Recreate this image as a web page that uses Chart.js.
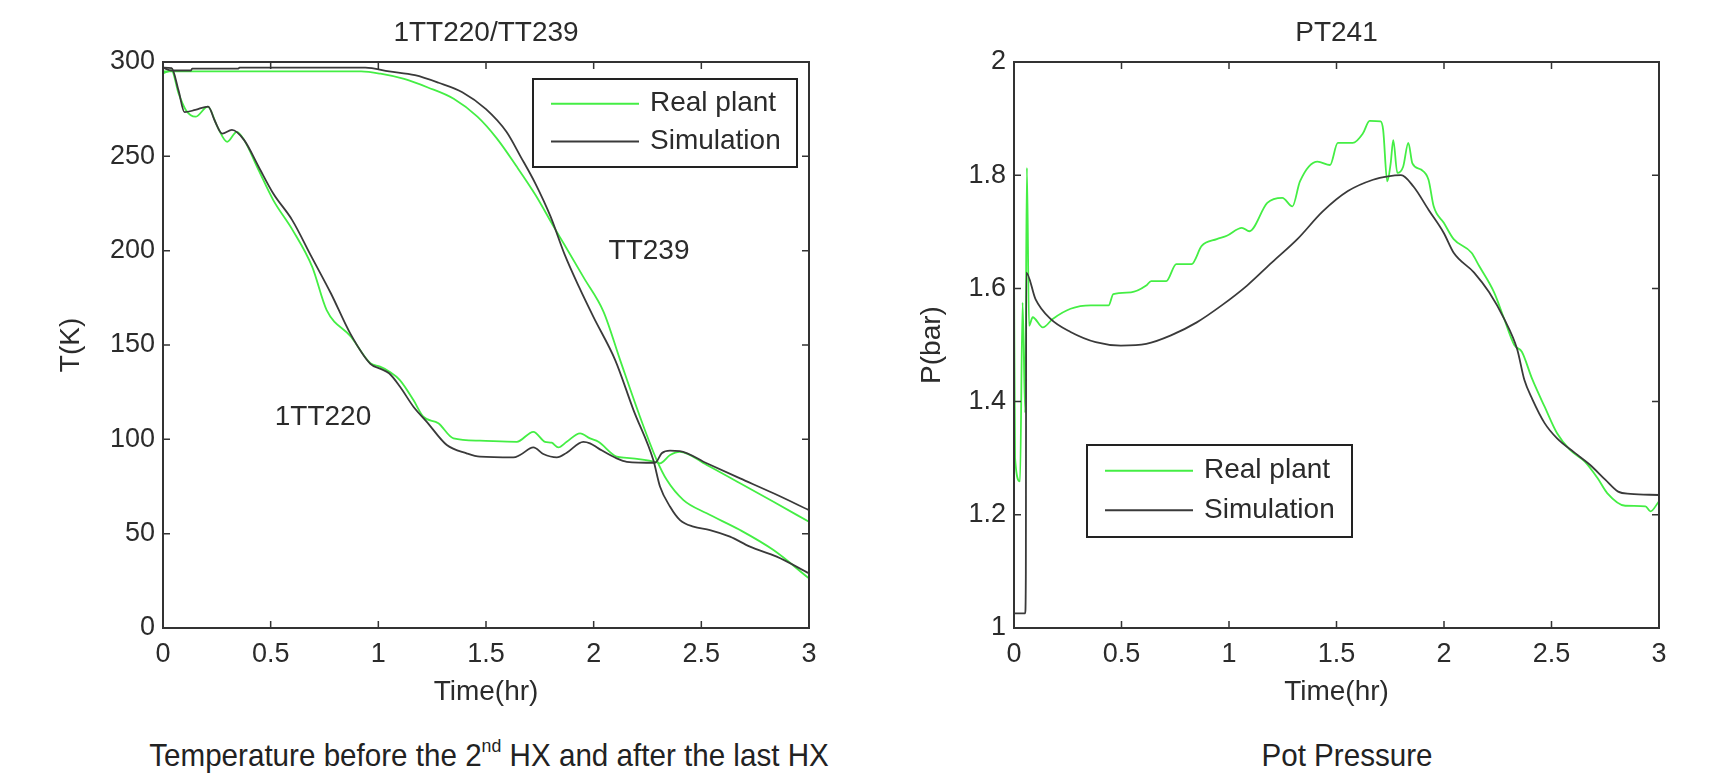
<!DOCTYPE html>
<html lang="en">
<head>
    <meta charset="UTF-8">
    <title>1TT220/TT239 and PT241</title>
    <style>
        body {
            margin: 0;
            padding: 0;
            background-color: #fff;
        }
        #page {
            position: relative;
            width: 1709px;
            height: 782px;
            overflow: hidden;
            font-family: 'Liberation Sans', Arial, sans-serif;
            color: #222;
        }
        .box {
            position: absolute;
            top: 0;
            height: 713px;
        }
        .caption {
            position: absolute;
            top: 755px;
            font-size: 32px;
            white-space: nowrap;
            transform: translate(-50%, -50%) scaleX(0.925);
        }
        .caption sup {
            font-size: 60%;
            vertical-align: 0.7em;
            line-height: 0;
        }
    </style>
</head>
<body>
    <div id="page">
        <div class="box" style="left:0; width:860px;"><canvas id="temp-chart"></canvas></div>
        <div class="box" style="left:860px; width:849px;"><canvas id="press-chart"></canvas></div>
        <div class="caption" style="left:489px;">Temperature before the 2<sup>nd</sup> HX and after the last HX</div>
        <div class="caption" style="left:1347px;">Pot Pressure</div>
    </div>

    <script src="https://cdn.jsdelivr.net/npm/chart.js"></script>
    <script>
        // tick labels
        const timeTicks = [0, 0.5, 1, 1.5, 2, 2.5, 3];
        const tempTicks = [0, 50, 100, 150, 200, 250, 300];
        const pressTicks = [1, 1.2, 1.4, 1.6, 1.8, 2];

        // TT239 (after the last HX)
        const tt239RealTime = [0, 0.92, 1.01, 1.12, 1.23, 1.35, 1.46, 1.55, 1.64, 1.73, 1.81, 1.865, 1.956, 2.046, 2.123, 2.215, 2.293, 2.34, 2.417, 2.525, 2.68, 2.835, 3.0];
        const tt239RealTemp = [295, 295, 293.8, 291, 286.5, 280.5, 271, 259.5, 245, 229.5, 213.6, 203, 185.3, 167.6, 142, 112, 89, 78.4, 67.8, 60.8, 51.9, 41.3, 26.3];
        const tt239SimTime = [0, 0.04, 0.13, 0.135, 0.35, 0.355, 0.94, 1.05, 1.17, 1.28, 1.39, 1.5, 1.595, 1.66, 1.73, 1.8, 1.865, 1.933, 2.0, 2.1, 2.185, 2.277, 2.308, 2.355, 2.401, 2.463, 2.54, 2.633, 2.726, 2.85, 3.0];
        const tt239SimTemp = [297, 295.5, 295.5, 296.5, 296.5, 297, 297, 295, 293, 289, 284, 275, 263, 250, 235.4, 218, 198, 180.5, 164.6, 142, 115.5, 89, 75, 64.3, 57.2, 53.7, 51.9, 48.4, 43.1, 37.8, 29];

        // 1TT220 (before the 2nd HX)
        const tt220RealTime = [0, 0.04, 0.072, 0.106, 0.151, 0.208, 0.253, 0.298, 0.343, 0.377, 0.444, 0.512, 0.602, 0.693, 0.76, 0.873, 0.963, 1.008, 1.05, 1.1, 1.163, 1.209, 1.279, 1.349, 1.472, 1.643, 1.72, 1.774, 1.805, 1.836, 1.875, 1.937, 1.983, 2.022, 2.107, 2.154, 2.285, 2.308, 2.355, 2.4, 2.525, 2.68, 2.835, 3.0];
        const tt220RealTemp = [294, 295.5, 283.5, 274.6, 271, 276.3, 265.6, 257.7, 263, 258.6, 242.7, 226.8, 210.9, 191.4, 168.5, 154.4, 140.3, 138.5, 136, 131.4, 120.8, 112, 108.5, 100.5, 99.3, 98.7, 104, 98.7, 98.2, 95.7, 98.7, 103.2, 100.5, 98.7, 90.8, 90.2, 88.1, 87.3, 91.7, 93.4, 86.4, 76.7, 66.9, 56.3];
        const tt220SimTime = [0, 0.04, 0.072, 0.1, 0.15, 0.21, 0.24, 0.275, 0.32, 0.377, 0.444, 0.512, 0.6, 0.69, 0.78, 0.87, 0.963, 1.008, 1.05, 1.1, 1.163, 1.225, 1.318, 1.41, 1.472, 1.627, 1.658, 1.72, 1.766, 1.829, 1.875, 1.952, 1.983, 2.022, 2.107, 2.154, 2.285, 2.316, 2.355, 2.4, 2.525, 2.68, 2.835, 3.0];
        const tt220SimTemp = [297, 296.7, 285, 273.4, 274.6, 276.4, 269, 262, 264, 258.6, 244.5, 230.3, 216.2, 196.7, 177.3, 156, 140, 137.5, 135, 128, 117.3, 109.3, 97, 92.6, 90.8, 90.4, 91.7, 95.7, 92.2, 90.4, 92.9, 98.7, 97.9, 95.2, 89.9, 88.1, 87.6, 92.6, 94, 93.8, 87.3, 79.3, 71.4, 62.5];

        // PT241 (pot pressure)
        const pt241RealTime = [0, 0.005, 0.028, 0.04, 0.052, 0.06, 0.07, 0.087, 0.134, 0.18, 0.263, 0.357, 0.44, 0.462, 0.544, 0.615, 0.638, 0.708, 0.755, 0.826, 0.873, 0.943, 0.99, 1.06, 1.095, 1.178, 1.248, 1.295, 1.33, 1.412, 1.47, 1.506, 1.576, 1.623, 1.654, 1.705, 1.717, 1.736, 1.752, 1.764, 1.783, 1.81, 1.834, 1.853, 1.893, 1.928, 1.952, 1.999, 2.045, 2.128, 2.163, 2.233, 2.28, 2.327, 2.362, 2.41, 2.468, 2.526, 2.585, 2.655, 2.714, 2.76, 2.843, 2.937, 2.96, 3.0];
        const pt241RealPress = [1.646, 1.30, 1.259, 1.575, 1.38, 1.813, 1.534, 1.549, 1.531, 1.546, 1.564, 1.57, 1.57, 1.59, 1.593, 1.605, 1.613, 1.613, 1.643, 1.643, 1.675, 1.687, 1.693, 1.707, 1.701, 1.751, 1.76, 1.745, 1.789, 1.824, 1.818, 1.857, 1.857, 1.874, 1.896, 1.895, 1.88, 1.789, 1.821, 1.862, 1.804, 1.815, 1.857, 1.821, 1.81, 1.792, 1.745, 1.716, 1.687, 1.663, 1.64, 1.593, 1.546, 1.50, 1.488, 1.44, 1.391, 1.344, 1.315, 1.294, 1.265, 1.238, 1.216, 1.215, 1.206, 1.224];
        const pt241SimTime = [0, 0.052, 0.055, 0.057, 0.1, 0.17, 0.263, 0.38, 0.497, 0.615, 0.73, 0.85, 0.966, 1.084, 1.2, 1.318, 1.436, 1.553, 1.67, 1.74, 1.8, 1.858, 1.928, 1.999, 2.045, 2.14, 2.21, 2.28, 2.34, 2.374, 2.41, 2.468, 2.526, 2.61, 2.68, 2.75, 2.81, 2.867, 3.0];
        const pt241SimPress = [1.026, 1.026, 1.09, 1.628, 1.581, 1.546, 1.523, 1.505, 1.499, 1.502, 1.517, 1.54, 1.57, 1.605, 1.646, 1.687, 1.736, 1.772, 1.792, 1.798, 1.8, 1.78, 1.739, 1.698, 1.663, 1.628, 1.593, 1.546, 1.493, 1.438, 1.405, 1.362, 1.335, 1.309, 1.288, 1.262, 1.241, 1.237, 1.235];

        const GREEN = '#44ee44';
        const GREY = '#3a3a3a';
        const FONT = "'Liberation Sans', Arial, sans-serif";

        Chart.defaults.font.family = FONT;
        Chart.defaults.color = '#2b2b2b';

        function pairs(ts, vs) {
            return ts.map((t, i) => ({ x: t, y: vs[i] }));
        }

        function series(label, ts, vs, color, order) {
            return {
                label: label,
                data: pairs(ts, vs),
                borderColor: color,
                backgroundColor: color,
                borderWidth: 1.8,
                pointRadius: 0,
                cubicInterpolationMode: 'monotone',
                fill: false,
                order: order
            };
        }

        // box, inward ticks on all sides, text notes and a MATLAB-like legend
        const matlabFrame = {
            id: 'matlabFrame',
            afterDraw(chart, args, o) {
                const { ctx, chartArea: a } = chart;
                const xs = chart.scales.x, ys = chart.scales.y;
                ctx.save();
                ctx.strokeStyle = '#333';
                ctx.lineWidth = 1.5;
                ctx.beginPath();
                xs.ticks.forEach(t => {
                    const p = xs.getPixelForValue(t.value);
                    ctx.moveTo(p, a.bottom); ctx.lineTo(p, a.bottom - 7);
                    ctx.moveTo(p, a.top); ctx.lineTo(p, a.top + 7);
                });
                ys.ticks.forEach(t => {
                    const p = ys.getPixelForValue(t.value);
                    ctx.moveTo(a.left, p); ctx.lineTo(a.left + 7, p);
                    ctx.moveTo(a.right, p); ctx.lineTo(a.right - 7, p);
                });
                ctx.stroke();
                ctx.lineWidth = 2;
                ctx.strokeRect(a.left, a.top, a.width, a.height);

                ctx.fillStyle = '#2b2b2b';
                ctx.font = '28px ' + FONT;
                ctx.textAlign = 'center';
                ctx.textBaseline = 'middle';
                (o.notes || []).forEach(n => {
                    ctx.fillText(n.text, xs.getPixelForValue(n.x), ys.getPixelForValue(n.y));
                });

                const L = o.legend;
                const bx = a.left + L.x, by = a.top + L.y;
                ctx.fillStyle = '#fff';
                ctx.fillRect(bx, by, L.w, L.h);
                ctx.strokeStyle = '#222';
                ctx.lineWidth = 2;
                ctx.strokeRect(bx, by, L.w, L.h);
                const seen = [];
                chart.data.datasets.forEach(d => {
                    if (!seen.find(s => s.label === d.label)) seen.push(d);
                });
                seen.sort((p, q) => (p.label === 'Real plant' ? -1 : 1));
                ctx.textAlign = 'left';
                seen.forEach((d, i) => {
                    const yy = by + L.h * (i === 0 ? 0.28 : 0.71);
                    ctx.strokeStyle = d.borderColor;
                    ctx.lineWidth = 2;
                    ctx.beginPath();
                    ctx.moveTo(bx + 18, yy); ctx.lineTo(bx + 106, yy);
                    ctx.stroke();
                    ctx.fillStyle = '#2b2b2b';
                    ctx.fillText(d.label, bx + 117, yy);
                });
                ctx.restore();
            }
        };

        const plainNumber = v => String(+Number(v).toFixed(2));

        function makeOptions(cfg) {
            return {
                responsive: true,
                maintainAspectRatio: false,
                animation: false,
                layout: { padding: { left: 0, right: cfg.padRight, top: 0, bottom: 0 } },
                plugins: {
                    legend: { display: false },
                    tooltip: { enabled: false },
                    title: {
                        display: true,
                        text: cfg.title,
                        fullSize: false,
                        font: { size: 28, weight: 'normal' },
                        color: '#2b2b2b',
                        padding: { top: 16, bottom: 12.4 }
                    },
                    matlabFrame: { legend: cfg.legend, notes: cfg.notes }
                },
                scales: {
                    x: {
                        type: 'linear',
                        min: 0,
                        max: 3,
                        afterBuildTicks: s => { s.ticks = timeTicks.map(v => ({ value: v })); },
                        afterFit: s => { s.height = 85; },
                        grid: { display: false, drawTicks: false },
                        border: { display: false },
                        ticks: { font: { size: 27 }, padding: 10, maxRotation: 0, color: '#2b2b2b', callback: plainNumber },
                        title: { display: true, text: 'Time(hr)', font: { size: 28 }, padding: { top: 0, bottom: 4 }, color: '#2b2b2b' }
                    },
                    y: {
                        min: cfg.yMin,
                        max: cfg.yMax,
                        afterBuildTicks: s => { s.ticks = cfg.yTicks.map(v => ({ value: v })); },
                        afterFit: s => { s.width = cfg.yWidth; },
                        grid: { display: false, drawTicks: false },
                        border: { display: false },
                        ticks: { font: { size: 27 }, padding: 8, color: '#2b2b2b', callback: plainNumber },
                        title: { display: true, text: cfg.yTitle, font: { size: 28 }, padding: { top: cfg.yTitlePad, bottom: 0 }, color: '#2b2b2b' }
                    }
                }
            };
        }

        new Chart(document.getElementById('temp-chart'), {
            type: 'line',
            data: {
                datasets: [
                    series('Simulation', tt239SimTime, tt239SimTemp, GREY, 1),
                    series('Simulation', tt220SimTime, tt220SimTemp, GREY, 1),
                    series('Real plant', tt239RealTime, tt239RealTemp, GREEN, 2),
                    series('Real plant', tt220RealTime, tt220RealTemp, GREEN, 2)
                ]
            },
            options: makeOptions({
                title: '1TT220/TT239',
                padRight: 51,
                yMin: 0, yMax: 300, yTicks: tempTicks,
                yWidth: 163, yTitle: 'T(K)', yTitlePad: 54,
                legend: { x: 370, y: 17, w: 264, h: 88 },
                notes: [
                    { text: 'TT239', x: 2.257, y: 199.8 },
                    { text: '1TT220', x: 0.743, y: 111.8 }
                ]
            }),
            plugins: [matlabFrame]
        });

        new Chart(document.getElementById('press-chart'), {
            type: 'line',
            data: {
                datasets: [
                    series('Simulation', pt241SimTime, pt241SimPress, GREY, 1),
                    series('Real plant', pt241RealTime, pt241RealPress, GREEN, 2)
                ]
            },
            options: makeOptions({
                title: 'PT241',
                padRight: 50,
                yMin: 1, yMax: 2, yTicks: pressTicks,
                yWidth: 154, yTitle: 'P(bar)', yTitlePad: 55,
                legend: { x: 73, y: 383, w: 265, h: 92 },
                notes: []
            }),
            plugins: [matlabFrame]
        });
    </script>
</body>
</html>
